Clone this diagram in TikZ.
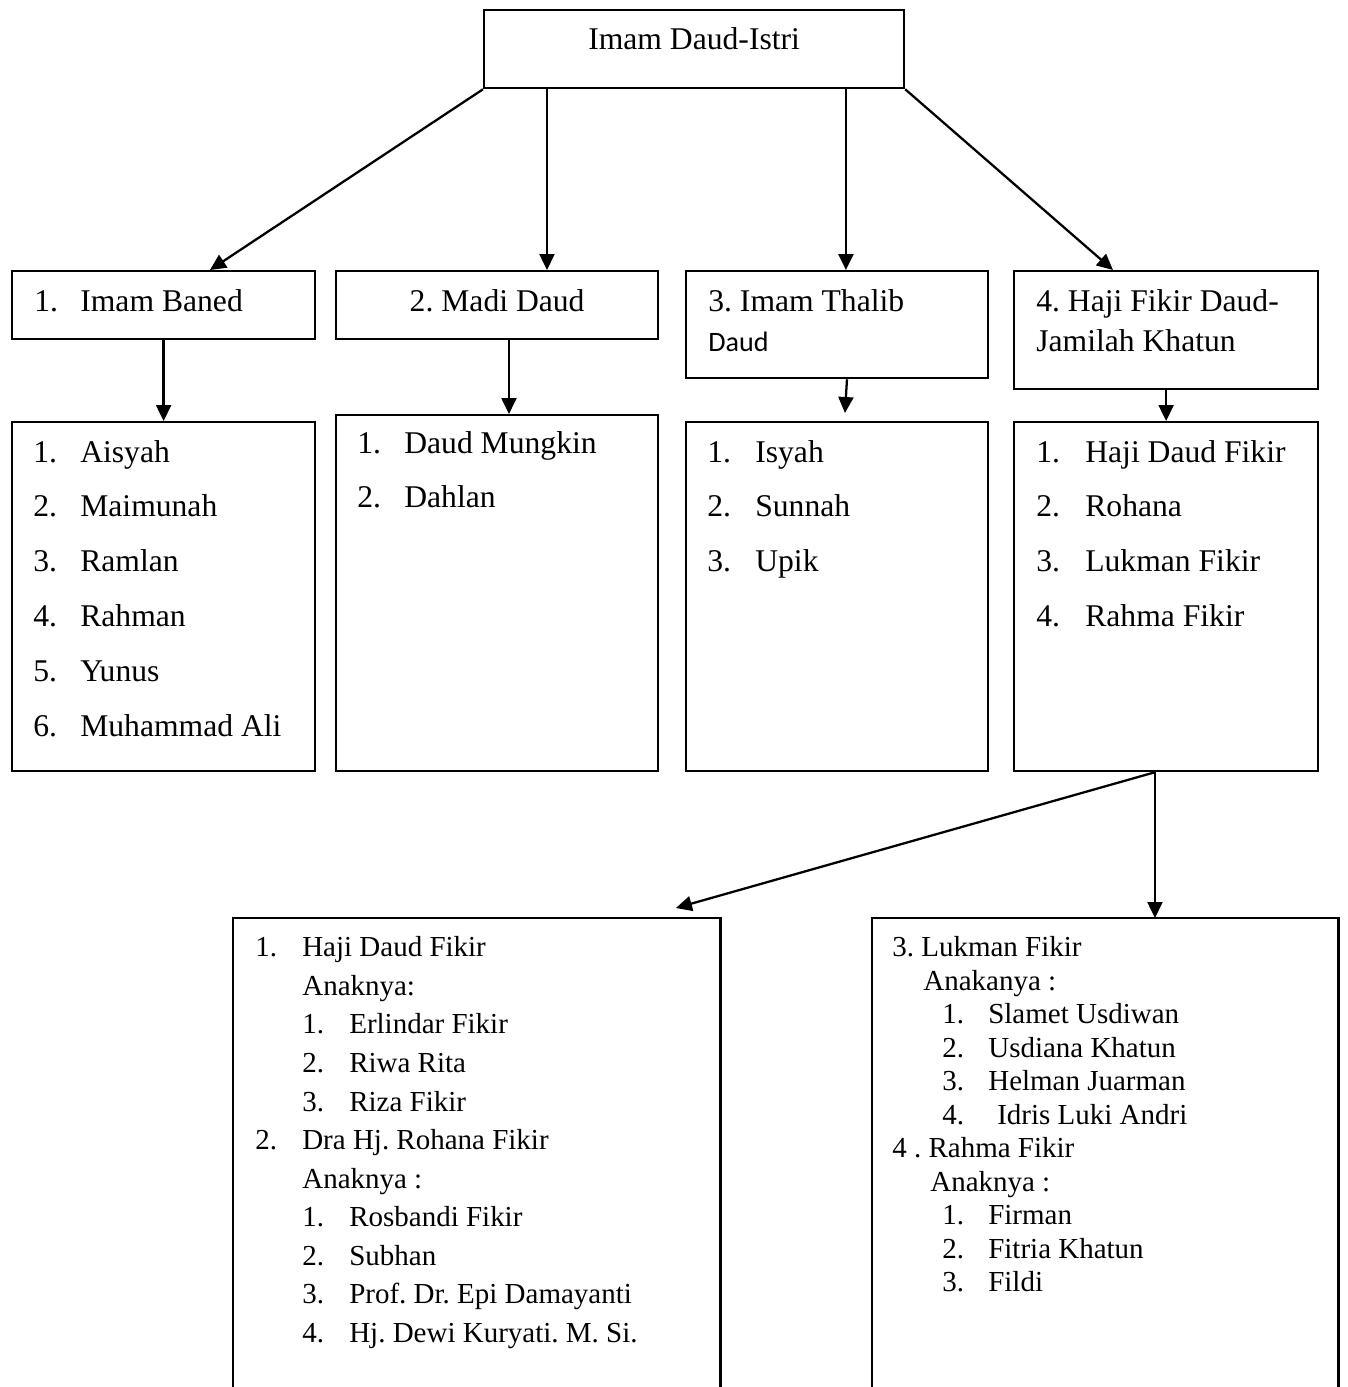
\documentclass[tikz,border=0pt]{standalone}
\usepackage{fontspec}
\setmainfont{Liberation Serif}
\newfontfamily\calibrifont{Carlito}
\frenchspacing
\usetikzlibrary{arrows.meta, positioning}

\begin{document}
\begin{tikzpicture}[
    x=0.02cm, y=-0.02cm,
    person/.style={rectangle, draw=black, line width=1.3pt, inner sep=0pt, anchor=north west},
    openbox/.style={rectangle, inner sep=0pt, anchor=north west},
    frameline/.style={line width=1.3pt},
    relation/.style={-{Triangle[length=0.32cm, width=0.3cm]}, line width=1.3pt},
    headtext/.style={inner sep=0pt, anchor=base west, font=\fontsize{18}{23.2}\selectfont},
    listtext/.style={inner sep=0pt, anchor=base west, font=\fontsize{18}{31.3}\selectfont},
    kidtext/.style={inner sep=0pt, anchor=base west, font=\fontsize{16.5}{21.96}\selectfont},
    grandtext/.style={inner sep=0pt, anchor=base west, font=\fontsize{16.5}{19.07}\selectfont}
]
\useasboundingbox (0,0) rectangle (1347,1387);

% Parents
\node[person, minimum width=8.4cm, minimum height=1.56cm] (top) at (483,9) {};
\node[headtext, anchor=base] (top-txt) at ([yshift=-0.82cm]top.north) {Imam Daud-Istri};

% Children
\node[person, minimum width=6.06cm, minimum height=1.36cm] (child1) at (11,270) {};
\node[headtext] (child1-txt) at ([xshift=0.46cm, yshift=-0.82cm]child1.north west)
    {\makebox[0.92cm][l]{1.}Imam Baned};
\node[person, minimum width=6.44cm, minimum height=1.36cm] (child2) at (335,270) {};
\node[headtext, anchor=base] (child2-txt) at ([yshift=-0.82cm]child2.north) {2. Madi Daud};
\node[person, minimum width=6.04cm, minimum height=2.14cm] (child3) at (685,270) {};
\node[headtext] (child3-txt) at ([xshift=0.46cm, yshift=-0.82cm]child3.north west)
    {\begin{tabular}[t]{@{}l@{}}3. Imam Thalib\\ {\calibrifont\fontsize{16}{19}\selectfont Daud}\end{tabular}};
\node[person, minimum width=6.08cm, minimum height=2.36cm] (child4) at (1013,270) {};
\node[headtext] (child4-txt) at ([xshift=0.46cm, yshift=-0.82cm]child4.north west)
    {\begin{tabular}[t]{@{}l@{}}4. Haji Fikir Daud-\\Jamilah Khatun\end{tabular}};

% Grandchildren
\node[person, minimum width=6.06cm, minimum height=6.98cm] (list1) at (11,421) {};
\node[listtext] (list1-txt) at ([xshift=0.44cm, yshift=-0.82cm]list1.north west)
    {\begin{tabular}[t]{@{}p{0.94cm}@{}l@{}}
     1. & Aisyah\\ 2. & Maimunah\\ 3. & Ramlan\\ 4. & Rahman\\ 5. & Yunus\\ 6. & Muhammad Ali
     \end{tabular}};
\node[person, minimum width=6.44cm, minimum height=7.12cm] (list2) at (335,414) {};
\node[listtext] (list2-txt) at ([xshift=0.44cm, yshift=-0.78cm]list2.north west)
    {\begin{tabular}[t]{@{}p{0.94cm}@{}l@{}}
     1. & Daud Mungkin\\ 2. & Dahlan
     \end{tabular}};
\node[person, minimum width=6.04cm, minimum height=6.98cm] (list3) at (685,421) {};
\node[listtext] (list3-txt) at ([xshift=0.44cm, yshift=-0.82cm]list3.north west)
    {\begin{tabular}[t]{@{}p{0.96cm}@{}l@{}}
     1. & Isyah\\ 2. & Sunnah\\ 3. & Upik
     \end{tabular}};
\node[person, minimum width=6.08cm, minimum height=6.98cm] (list4) at (1013,421) {};
\node[listtext] (list4-txt) at ([xshift=0.46cm, yshift=-0.82cm]list4.north west)
    {\begin{tabular}[t]{@{}p{0.98cm}@{}l@{}}
     1. & Haji Daud Fikir\\ 2. & Rohana\\ 3. & Lukman Fikir\\ 4. & Rahma Fikir
     \end{tabular}};

% Great-grandchildren (boxes run off the page)
\node[openbox, minimum width=9.74cm, minimum height=9.38cm] (kids1) at (233,918) {};
\draw[frameline] (kids1.south west) |- (kids1.north east) -- (kids1.south east);
\node[kidtext] (kids1-txt) at ([xshift=0.44cm, yshift=-0.774cm]kids1.north west)
    {\begin{tabular}[t]{@{}p{0.94cm}@{}p{0.94cm}@{}l@{}}
     1. & \multicolumn{2}{@{}l@{}}{Haji Daud Fikir}\\
        & \multicolumn{2}{@{}l@{}}{Anaknya:}\\
        & 1. & Erlindar Fikir\\
        & 2. & Riwa Rita\\
        & 3. & Riza Fikir\\
     2. & \multicolumn{2}{@{}l@{}}{Dra Hj. Rohana Fikir}\\
        & \multicolumn{2}{@{}l@{}}{Anaknya :}\\
        & 1. & Rosbandi Fikir\\
        & 2. & Subhan\\
        & 3. & Prof. Dr. Epi Damayanti\\
        & 4. & Hj. Dewi Kuryati. M. Si.
     \end{tabular}};
\node[openbox, minimum width=9.32cm, minimum height=9.38cm] (kids2) at (872,918) {};
\draw[frameline] (kids2.south west) |- (kids2.north east) -- (kids2.south east);
\node[grandtext] (kids2-txt) at ([xshift=0.4cm, yshift=-0.774cm]kids2.north west)
    {\begin{tabular}[t]{@{}l@{}}
     3. Lukman Fikir\\
     \hspace*{0.62cm}Anakanya :\\
     \hspace*{1.0cm}\makebox[0.92cm][l]{1.}Slamet Usdiwan\\
     \hspace*{1.0cm}\makebox[0.92cm][l]{2.}Usdiana Khatun\\
     \hspace*{1.0cm}\makebox[0.92cm][l]{3.}Helman Juarman\\
     \hspace*{1.0cm}\makebox[1.1cm][l]{4.}Idris Luki Andri\\
     4 . Rahma Fikir\\
     \hspace*{0.76cm}Anaknya :\\
     \hspace*{1.0cm}\makebox[0.92cm][l]{1.}Firman\\
     \hspace*{1.0cm}\makebox[0.92cm][l]{2.}Fitria Khatun\\
     \hspace*{1.0cm}\makebox[0.92cm][l]{3.}Fildi
     \end{tabular}};

% Relations
\coordinate (d2) at ([xshift=1.28cm]top.south west);
\coordinate (d3) at ([xshift=7.26cm]top.south west);
\draw[relation] (top.south west) -- ([xshift=3.98cm]child1.north west);
\draw[relation] (d2) -- (d2 |- child2.north);
\draw[relation] (d3) -- (d3 |- child3.north);
\draw[relation] (top.south east) -- ([xshift=2.0cm]child4.north west);

\draw[relation] (child1.south) -- (list1.north);
\coordinate (c2) at ([xshift=3.48cm]child2.south west);
\draw[relation] (c2) -- (c2 |- list2.north);
\draw[relation] ([xshift=3.24cm]child3.south west) -- ([xshift=3.2cm, yshift=0.16cm]list3.north west);
\draw[relation] (child4.south) -- (list4.north);

\coordinate (split) at ([xshift=2.84cm]list4.south west);
\draw[relation] (split) -- (split |- kids2.north);
\draw[relation] (split) -- ([xshift=8.86cm, yshift=0.2cm]kids1.north west);

\end{tikzpicture}
\end{document}
